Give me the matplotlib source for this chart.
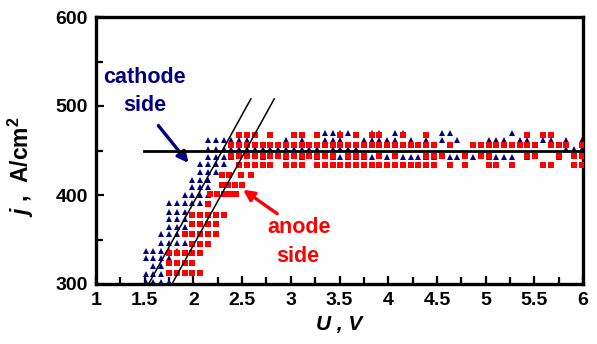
import matplotlib
matplotlib.use("Agg")
import matplotlib.pyplot as plt
from matplotlib.ticker import FixedLocator, MultipleLocator

plt.rcParams["font.family"] = ["Liberation Sans", "DejaVu Sans"]
plt.rcParams["font.weight"] = "bold"
plt.rcParams["mathtext.fontset"] = "custom"
plt.rcParams["mathtext.it"] = "Liberation Sans:bold:italic"
plt.rcParams["mathtext.rm"] = "Liberation Sans:bold"

# Current density levels (A/cm^2) and the voltages measured at each level
cathode_j = [302, 311, 320, 329, 337, 346, 356, 364, 373, 381,
             391, 400, 409, 417, 426, 435, 443, 452, 462, 470]
cathode_u = [
    [1.51, 1.59, 1.67, 1.75],
    [1.51, 1.59, 1.67],
    [1.59, 1.67],
    [1.51, 1.59, 1.67, 1.75],
    [1.51, 1.59, 1.67, 1.75, 1.83],
    [1.67, 1.75, 1.83, 1.91],
    [1.67, 1.75, 1.83],
    [1.75, 1.83, 1.91],
    [1.75, 1.83, 1.91],
    [1.75, 1.83, 1.91],
    [1.75, 1.83, 1.91, 1.99, 2.07],
    [1.91, 1.99, 2.07, 2.15],
    [1.99, 2.07, 2.15],
    [1.99, 2.07, 2.15],
    [2.07, 2.15, 2.23],
    [2.07, 2.15, 2.23, 2.31],
    [2.15, 2.23, 2.31, 2.39, 2.71, 2.95, 3.11, 3.27, 3.43, 3.51, 3.59, 3.67,
     3.75, 3.83, 3.99, 4.15, 4.23, 4.31, 4.39, 4.47, 4.63, 4.71, 4.87, 5.03,
     5.11, 5.19, 5.27, 5.43, 5.75],
    [2.15, 2.23, 2.31, 2.39, 2.47, 2.55, 2.63, 2.71, 2.79, 2.87, 2.95, 3.03,
     3.11, 3.19, 3.27, 3.43, 3.51, 3.59, 3.67, 5.83, 5.91, 5.99],
    [2.15, 2.23, 2.31, 2.39, 2.47, 2.55, 2.95, 3.11, 3.35, 3.43, 3.51, 3.75,
     3.83, 3.91, 3.99, 4.07, 4.23, 4.39, 4.55, 4.71, 5.03, 5.11, 5.19, 5.35,
     5.43, 5.59, 5.67, 5.83, 5.99],
    [3.35, 3.43, 3.51, 3.59, 3.83, 3.91, 4.07, 4.15, 4.55, 4.63, 5.27],
]

anode_j = [312, 324, 335, 345, 356, 367, 378, 390, 401, 411,
           423, 434, 444, 456, 467]
anode_u = [
    [1.75, 1.83, 1.91, 1.99, 2.07],
    [1.75, 1.83, 1.91, 1.99],
    [1.75, 1.83, 1.91, 1.99, 2.07],
    [1.99, 2.07, 2.15],
    [1.91, 1.99, 2.07, 2.15, 2.23],
    [1.99, 2.07, 2.15, 2.23],
    [1.99, 2.07, 2.15, 2.23, 2.31],
    [2.15],
    [2.17, 2.24, 2.31, 2.38, 2.44],
    [2.29, 2.36, 2.43, 2.50],
    [2.29, 2.37, 2.49, 2.59],
    [2.47, 2.55, 2.63, 2.71, 2.79, 2.95, 3.03, 3.11, 3.27, 3.35, 3.43, 3.51,
     3.59, 3.67, 3.75, 3.83, 3.91, 3.99, 4.07, 4.15, 4.23, 4.31, 4.39, 4.47,
     4.63, 4.79, 5.03, 5.11, 5.27, 5.59, 5.67, 5.91, 5.99],
    [2.39, 2.47, 2.55, 2.63, 2.71, 2.79, 2.87, 2.95, 3.03, 3.11, 3.19, 3.27,
     3.35, 3.43, 3.59, 3.67, 3.75, 3.91, 4.07, 4.39, 4.47, 4.55, 4.79, 4.95,
     5.03, 5.43, 5.51, 5.75, 5.91, 5.99],
    [2.39, 2.47, 2.55, 2.63, 2.71, 2.79, 2.87, 2.95, 3.03, 3.11, 3.19, 3.27,
     3.35, 3.43, 3.51, 3.59, 3.67, 3.75, 3.83, 3.91, 3.99, 4.07, 4.15, 4.23,
     4.31, 4.39, 4.47, 4.63, 4.87, 4.95, 5.03, 5.11, 5.19, 5.27, 5.35, 5.43,
     5.51, 5.67, 5.75, 5.83, 5.99],
    [2.47, 2.55, 2.63, 2.79, 3.03, 3.11, 3.27, 3.51, 3.67, 3.83, 3.91, 4.15,
     4.39, 5.43, 5.59, 5.67],
]

# Limiting current level and the two linear rise lines
limit_j = 450
limit_u = [1.49, 6.0]
rise_j = [300, 508]
rise_cathode_u = [1.54, 2.59]
rise_anode_u = [1.78, 2.83]

x_ticks = [1, 1.5, 2, 2.5, 3, 3.5, 4, 4.5, 5, 5.5, 6]
x_labels = ["1", "1.5", "2", "2.5", "3", "3.5", "4", "4.5", "5", "5.5", "6"]
y_ticks = [300, 400, 500, 600]
y_labels = ["300", "400", "500", "600"]

navy = "#000080"
red = "#ff0000"

fig = plt.figure(figsize=(5.97, 3.44), dpi=100)
ax = fig.add_axes([96 / 597, 1 - 284 / 344, 487 / 597, 267 / 344])

for j, us in zip(cathode_j, cathode_u):
    ax.plot(us, [j] * len(us), ls="none", marker="^", ms=4.6,
            color=navy, mew=0, zorder=2)
for j, us in zip(anode_j, anode_u):
    ax.plot(us, [j] * len(us), ls="none", marker="s", ms=4.0,
            color=red, mew=0, zorder=3)

ax.plot(limit_u, [limit_j, limit_j], color="black", lw=2.0, zorder=4)
ax.plot(rise_cathode_u, rise_j, color="black", lw=1.1, zorder=4)
ax.plot(rise_anode_u, rise_j, color="black", lw=1.1, zorder=4)

ax.set_xlim(1, 6)
ax.set_ylim(300, 600)

ax.xaxis.set_major_locator(FixedLocator(x_ticks))
ax.set_xticklabels(x_labels)
ax.xaxis.set_minor_locator(MultipleLocator(0.25))
ax.yaxis.set_major_locator(FixedLocator(y_ticks))
ax.set_yticklabels(y_labels)
ax.yaxis.set_minor_locator(MultipleLocator(50))

ax.tick_params(axis="both", which="both", direction="in", top=False,
               right=False, width=1.6, labelsize=14, pad=6)
ax.tick_params(axis="both", which="major", length=6)
ax.tick_params(axis="both", which="minor", length=5)
for lab in ax.get_xticklabels() + ax.get_yticklabels():
    lab.set_fontweight("bold")

for sp in ax.spines.values():
    sp.set_linewidth(2.4)

ax.set_xlabel("U , V", fontsize=15, fontweight="bold", fontstyle="italic",
              labelpad=4)
ax.set_ylabel(r"$j$ ,  A/cm$^{\mathrm{2}}$", fontsize=16.5, fontweight="bold")
ax.yaxis.set_label_coords(-0.123, 0.44)

ax.text(1.50, 532, "cathode", color=navy, fontsize=15.5, fontweight="bold",
        ha="center", va="center")
ax.text(1.50, 501, "side", color=navy, fontsize=15.5, fontweight="bold",
        ha="center", va="center")
ax.text(3.09, 363, "anode", color=red, fontsize=15.5, fontweight="bold",
        ha="center", va="center")
ax.text(3.07, 331, "side", color=red, fontsize=15.5, fontweight="bold",
        ha="center", va="center")

ax.annotate("", xy=(1.95, 436), xytext=(1.64, 478),
            arrowprops=dict(arrowstyle="-|>", color=navy, lw=2.4,
                            mutation_scale=16, shrinkA=0, shrinkB=0))
ax.annotate("", xy=(2.51, 406), xytext=(2.86, 379),
            arrowprops=dict(arrowstyle="-|>", color=red, lw=2.4,
                            mutation_scale=16, shrinkA=0, shrinkB=0))

fig.savefig("out.png", dpi=100)
